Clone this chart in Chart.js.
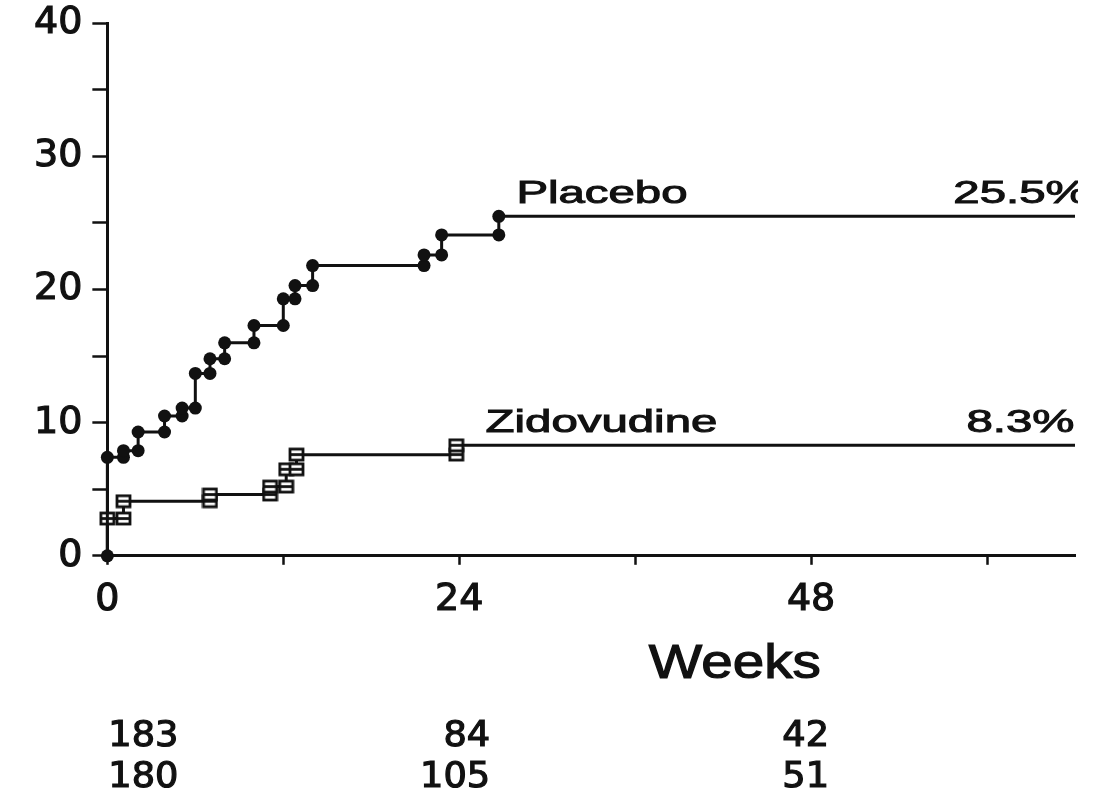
<!DOCTYPE html>
<html>
<head>
<meta charset="utf-8">
<script src="https://cdn.jsdelivr.net/npm/chart.js@4/dist/chart.umd.min.js"></script>
<style>
  html, body { margin: 0; padding: 0; background: #fff; }
  #wrap { width: 1101px; height: 794px; }
</style>
</head>
<body>
<div id="wrap"><canvas id="kmChart"></canvas></div>
<script>
// cumulative % progressed (week of step, value after step)
const placeboWeeks = [0, 1.1, 2.1, 3.9, 5.1, 6.0, 7.0, 8.0, 10.0, 12.0, 12.8, 14.0, 21.6, 22.8, 26.7];
const placeboPct   = [7.4, 7.9, 9.3, 10.5, 11.1, 13.7, 14.8, 16.0, 17.3, 19.3, 20.3, 21.8, 22.6, 24.1, 25.5];
const zidoWeeks = [0, 1.1, 7.0, 11.1, 12.2, 12.9, 23.8];
const zidoPct   = [2.8, 4.1, 4.6, 5.2, 6.5, 7.6, 8.3];
const endWeek = 66;

// axes
const weekTicks  = [0, 12, 24, 36, 48, 60];
const weekLabels = ['0', '', '24', '', '48', ''];
const riskWeeks  = [0, 24, 48];
const placeboAtRisk = [183, 84, 42];
const zidoAtRisk    = [180, 105, 51];

const INK = '#111';

// turn step list into points (before + after each jump)
function stepPoints(weeks, values) {
    const pts = [];
    let prev = 0;
    weeks.forEach((w, i) => {
        pts.push({ x: w, y: prev });
        pts.push({ x: w, y: values[i] });
        prev = values[i];
    });
    pts.push({ x: endWeek, y: prev });
    return pts;
}

// open square with a bar through it
function boxMarker() {
    const c = document.createElement('canvas');
    c.width = 17; c.height = 15;
    const g = c.getContext('2d');
    g.fillStyle = '#fff';
    g.fillRect(1, 1, 15, 13);
    g.strokeStyle = INK;
    g.lineWidth = 2.8;
    g.strokeRect(2, 2, 13, 11);
    g.beginPath(); g.moveTo(2, 7.5); g.lineTo(15, 7.5); g.stroke();
    return c;
}

const placeboPts = stepPoints(placeboWeeks, placeboPct);
const zidoPts = stepPoints(zidoWeeks, zidoPct);

// where the curve names / end percentages sit (weeks)
const labelAnchors = { Placebo: [27.9, 57.7], Zidovudine: [25.8, 58.6] };
// nudge of each at-risk column from its week tick (px)
const riskNudge = [1, 31, 18];

function stretchText(ctx, text, x, y, sx) {
    ctx.save();
    ctx.translate(x, y);
    ctx.scale(sx, 1);
    ctx.strokeText(text, 0, 0);
    ctx.fillText(text, 0, 0);
    ctx.restore();
}

const curveLabels = {
    id: 'curveLabels',
    afterDatasetsDraw(chart) {
        const { ctx, chartArea } = chart;
        const x = chart.scales.x, y = chart.scales.y;
        ctx.save();
        ctx.beginPath();
        ctx.rect(0, 0, chartArea.right + 3, chart.height);
        ctx.clip();
        ctx.fillStyle = INK;
        ctx.strokeStyle = INK;
        ctx.lineWidth = 1;
        ctx.font = '32px "Liberation Sans", Arial, sans-serif';
        ctx.textAlign = 'left';
        ctx.textBaseline = 'alphabetic';
        chart.data.datasets.forEach(ds => {
            const last = ds.data[ds.data.length - 1].y;
            const base = y.getPixelForValue(last) - 13;
            const [nameAt, pctAt] = labelAnchors[ds.label];
            stretchText(ctx, ds.label, x.getPixelForValue(nameAt), base, 1.48);
            stretchText(ctx, last.toFixed(1) + '%', x.getPixelForValue(pctAt), base, 1.48);
        });
        ctx.restore();

        // axis title, drawn in the band the x scale reserves for it
        const t = x.options.title;
        ctx.save();
        ctx.fillStyle = INK;
        ctx.strokeStyle = INK;
        ctx.lineWidth = 1.2;
        ctx.font = '48px "Liberation Sans", Arial, sans-serif';
        ctx.textAlign = 'center';
        ctx.textBaseline = 'middle';
        const ty = x.bottom - t.padding.bottom - 48 * 1.2 / 2;
        stretchText(ctx, 'Weeks', x.getPixelForValue(42.8), ty, 1.18);

        // numbers at risk under the axis
        ctx.lineWidth = 1.2;
        ctx.font = '35px "DejaVu Sans", sans-serif';
        riskWeeks.forEach((w, i) => {
            const ax = x.getPixelForValue(w) + riskNudge[i];
            ctx.textAlign = i === 0 ? 'left' : 'right';
            stretchText(ctx, String(placeboAtRisk[i]), ax, x.bottom + 19, 1.05);
            stretchText(ctx, String(zidoAtRisk[i]), ax, x.bottom + 60, 1.05);
        });
        ctx.restore();
    }
};

const tickText = { color: INK, textStrokeColor: INK, textStrokeWidth: 1.2 };

new Chart(document.getElementById('kmChart'), {
    type: 'line',
    data: {
        datasets: [{
            label: 'Placebo',
            data: placeboPts,
            borderColor: INK,
            backgroundColor: INK,
            borderWidth: 3,
            pointStyle: 'circle',
            pointRadius: c => (c.dataIndex === placeboPts.length - 1 ? 0 : 6.5),
            pointBorderWidth: 0,
            clip: false
        }, {
            label: 'Zidovudine',
            data: zidoPts,
            borderColor: INK,
            backgroundColor: '#fff',
            borderWidth: 3,
            pointStyle: boxMarker(),
            pointRadius: c => (c.dataIndex === 0 || c.dataIndex === zidoPts.length - 1 ? 0 : 8),
            clip: false
        }]
    },
    options: {
        responsive: true,
        maintainAspectRatio: false,
        animation: false,
        layout: { padding: { left: 24, right: 26, top: 0, bottom: 76 } },
        plugins: {
            legend: { display: false },
            tooltip: { enabled: false }
        },
        scales: {
            x: {
                type: 'linear',
                min: 0,
                max: endWeek,
                afterBuildTicks: s => { s.ticks = weekTicks.map(v => ({ value: v })); },
                ticks: {
                    ...tickText,
                    autoSkip: false,
                    maxRotation: 0,
                    padding: 13,
                    font: { family: 'DejaVu Sans', size: 38 },
                    callback: (v, i) => weekLabels[i]
                },
                grid: { drawOnChartArea: false, tickLength: 9, tickWidth: 2.5, tickColor: INK },
                border: { color: INK, width: 3 },
                title: { display: true, text: '', font: { size: 48 }, padding: { top: 0, bottom: 24 } }
            },
            y: {
                min: 0,
                max: 40,
                ticks: {
                    ...tickText,
                    stepSize: 5,
                    padding: 10,
                    font: { family: 'DejaVu Sans', size: 38, lineHeight: 0.7 },
                    callback: v => (v % 10 === 0 ? String(v) : '')
                },
                grid: { drawOnChartArea: false, tickLength: 15, tickWidth: 2.5, tickColor: INK },
                border: { color: INK, width: 3 }
            }
        }
    },
    plugins: [curveLabels]
});
</script>
</body>
</html>
